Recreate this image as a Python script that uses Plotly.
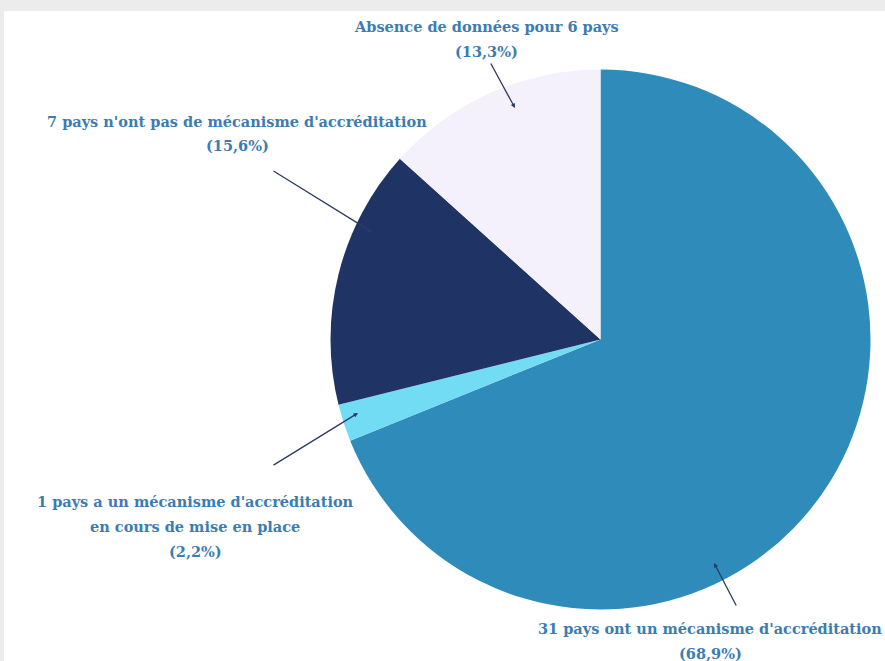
import plotly.graph_objects as go

categories = [
    "31 pays ont un mécanisme d'accréditation",
    "1 pays a un mécanisme d'accréditation en cours de mise en place",
    "7 pays n'ont pas de mécanisme d'accréditation",
    "Absence de données pour 6 pays",
]
counts = [31, 1, 7, 6]
pct_labels = ["(68,9%)", "(2,2%)", "(15,6%)", "(13,3%)"]
label_lines = [
    ["31 pays ont un mécanisme d'accréditation"],
    ["1 pays a un mécanisme d'accréditation", "en cours de mise en place"],
    ["7 pays n'ont pas de mécanisme d'accréditation"],
    ["Absence de données pour 6 pays"],
]
colors = ["#2e8bba", "#72dcf4", "#1f3464", "#f4f0fc"]

W, H = 885, 661
cx, cy, R = 600.5, 339.5, 270

fig = go.Figure(go.Pie(
    labels=categories, values=counts, sort=False, direction="clockwise",
    rotation=0, marker=dict(colors=colors, line=dict(width=0)),
    textinfo="none", hoverinfo="label+percent", showlegend=False,
    domain=dict(x=[(cx - R) / W, (cx + R) / W], y=[1 - (cy + R) / H, 1 - (cy - R) / H]),
))

def px(x, y):
    return x / W, 1 - y / H

# arrow tips (px) and tails (px); label centres (px)
arrows = [((714, 563), (737, 607)), ((358, 413), (272, 466)),
          ((372, 232), (272, 170)), ((515, 108), (490, 62))]
label_pos = [(710, 628), (195, 501), (237, 121), (487, 27)]

font = dict(family="DejaVu Serif", size=14.5, color="#3b7cb3")
annotations = []
for (tip, tail) in arrows:
    tx, ty = px(*tip)
    annotations.append(dict(x=tx, y=ty, xref="paper", yref="paper", text="",
                            showarrow=True, ax=tail[0] - tip[0], ay=tail[1] - tip[1],
                            arrowhead=2, arrowsize=0.7, arrowwidth=1.3, arrowcolor="#2c3a66"))
for lines, pct, (lx, ly) in zip(label_lines, pct_labels, label_pos):
    for i, t in enumerate(lines + [pct]):
        x, y = px(lx, ly + i * 25)
        annotations.append(dict(x=x, y=y, xref="paper", yref="paper", text="<b>%s</b>" % t,
                                showarrow=False, font=font, xanchor="center", yanchor="middle"))

shapes = [
    dict(type="rect", xref="paper", yref="paper", x0=0, x1=1, y0=1 - 11 / H, y1=1,
         fillcolor="#ececec", line=dict(width=0), layer="below"),
    dict(type="rect", xref="paper", yref="paper", x0=0, x1=4 / W, y0=0, y1=1,
         fillcolor="#ececec", line=dict(width=0), layer="below"),
]

fig.update_layout(width=W, height=H, margin=dict(l=0, r=0, t=0, b=0),
                  paper_bgcolor="white", plot_bgcolor="white",
                  annotations=annotations, shapes=shapes)
fig.write_html("out.html", config={"displayModeBar": False},
               post_script="document.body.style.margin='0';document.body.style.overflow='hidden';")
